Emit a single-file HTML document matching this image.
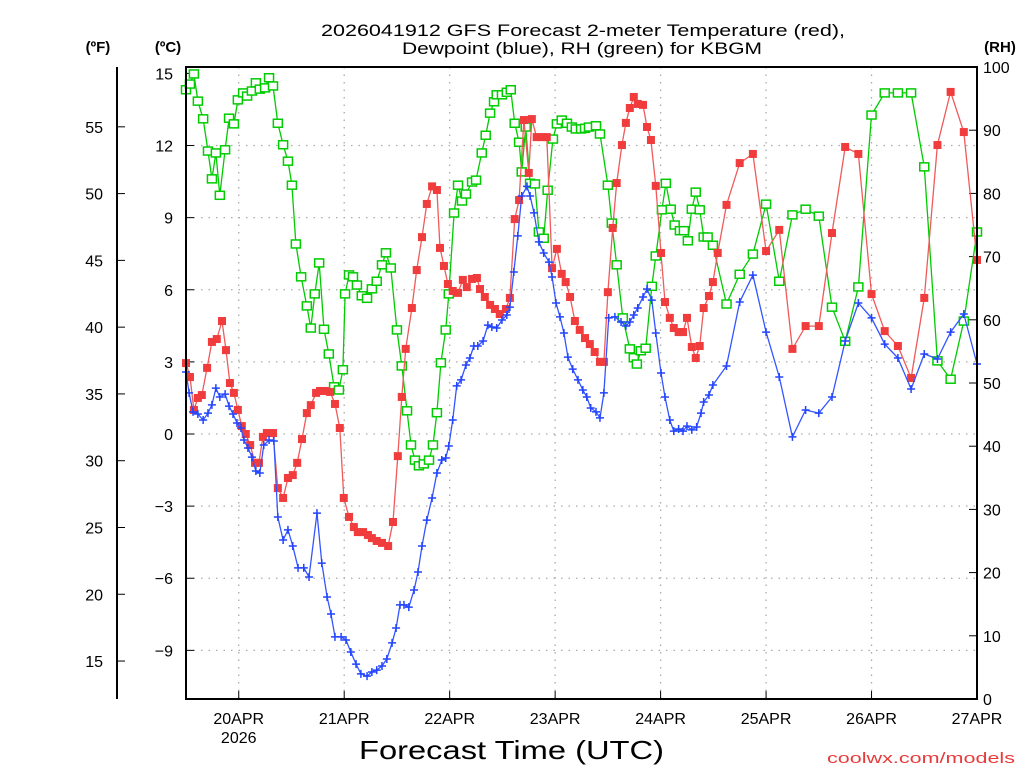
<!DOCTYPE html>
<html><head><meta charset="utf-8"><style>
html,body{margin:0;padding:0;background:#fff;}
svg{display:block;font-family:"Liberation Sans","DejaVu Sans",sans-serif;}
</style></head><body>
<svg id="chart" width="1024" height="768" viewBox="0 0 1024 768" xmlns="http://www.w3.org/2000/svg">
<text x="321" y="36" font-size="17" textLength="524" lengthAdjust="spacingAndGlyphs">2026041912 GFS Forecast 2-meter Temperature (red),</text>
<text x="402" y="54" font-size="17" textLength="360" lengthAdjust="spacingAndGlyphs">Dewpoint (blue), RH (green) for KBGM</text>
<text x="98" y="52" font-size="15" font-weight="bold" text-anchor="middle">(ºF)</text>
<text x="168" y="52" font-size="15" font-weight="bold" text-anchor="middle">(ºC)</text>
<text x="1000" y="52" font-size="15" font-weight="bold" text-anchor="middle">(RH)</text>
<text x="359" y="759" font-size="26" textLength="305" lengthAdjust="spacingAndGlyphs">Forecast Time (UTC)</text>
<text x="827" y="763" font-size="15" fill="#e83a3a" textLength="188" lengthAdjust="spacingAndGlyphs">coolwx.com/models</text>
<g id="grid"></g><g id="axes"></g><g id="series"></g>
<rect x="186" y="67" width="791" height="632" fill="none" stroke="#000" stroke-width="2"/>
</svg>
<script>
const tempHours=[0,0.9,1.8,2.7,3.6,4.8,5.9,7.0,8.2,9.1,10.0,10.9,11.8,12.7,13.6,14.6,15.7,16.6,17.5,18.4,19.8,20.9,22.1,23.2,24.3,25.3,26.4,27.5,28.4,29.6,30.5,31.6,32.8,33.9,35.0,35.9,37.1,38.2,39.1,40.3,41.4,42.3,43.4,44.6,46.0,47.1,48.2,49.1,50.0,51.4,52.5,53.7,54.8,56.0,57.1,57.8,58.7,59.6,60.7,61.9,63.0,63.9,65.1,66.2,66.9,68.0,69.2,70.3,71.4,72.8,73.7,74.8,75.8,76.9,78.0,78.7,79.8,81.0,82.1,83.3,84.4,85.5,86.4,87.4,88.5,89.6,90.8,91.9,93.0,94.2,95.1,96.0,97.1,98.0,99.2,100.1,101.0,101.9,102.8,104.0,104.9,105.8,106.9,108.1,109.0,110.1,111.0,112.1,113.1,114.0,115.1,116.0,116.9,117.8,119.0,119.9,121.0,123,126,129,132,135,138,141,144,147,150,153,156,159,162,165,168,171,174,177,180];
const tempC=[2.95,2.37,1.0,1.5,1.62,2.75,3.83,3.95,4.7,3.49,2.12,1.71,1.0,0.33,0,-0.46,-1.2,-1.2,-0.12,0.04,0.04,-2.25,-2.66,-1.83,-1.71,-1.2,-0.21,0.87,1.2,1.71,1.79,1.79,1.75,1.25,0.25,-2.66,-3.45,-3.87,-4.08,-4.08,-4.2,-4.33,-4.45,-4.53,-4.66,-3.66,-0.92,1.54,3.54,5.24,6.82,8.19,9.57,10.3,10.15,7.74,6.99,6.24,5.95,5.87,6.41,6.11,6.45,6.49,6.03,5.7,5.37,5.2,4.99,5.2,5.66,8.94,9.73,13.06,10.86,13.1,12.35,12.35,12.35,6.9,7.7,6.66,6.32,5.7,4.7,4.33,3.99,3.74,3.41,3.0,3.0,5.9,8.57,10.44,12.02,12.94,13.56,14.02,13.73,13.69,12.77,12.23,10.32,7.53,5.49,4.83,4.41,4.24,4.24,4.83,3.62,3.16,3.66,5.24,5.74,6.32,7.53,9.53,11.27,11.65,7.61,8.49,3.54,4.49,4.49,8.36,11.94,11.65,5.82,4.28,3.66,2.33,5.66,12.02,14.23,12.56,7.24];
const dewHours=[0,0.7,1.6,2.7,3.9,5.0,5.9,6.8,7.7,8.9,9.8,10.7,11.6,12.5,13.2,14.1,15.0,15.9,16.8,17.7,18.9,20.0,20.9,22.1,23.2,24.3,25.5,26.8,28.0,29.8,30.9,32.1,33.0,33.9,35.3,36.4,37.5,38.7,39.8,41.2,42.3,43.4,44.6,45.7,46.9,47.8,48.7,49.6,50.7,51.9,52.8,53.7,54.8,56.0,57.1,58.2,59.1,59.8,60.7,61.6,62.6,63.7,64.6,65.5,66.4,67.6,68.7,69.6,70.7,71.9,73.0,73.7,74.6,75.5,76.4,77.6,78.3,79.2,80.3,81.4,82.6,83.3,84.2,85.1,86.0,86.9,88.0,89.2,90.3,91.2,92.1,93.3,94.2,95.1,96.2,97.6,99.0,100.1,101.0,101.9,102.8,104.0,104.9,106.0,106.9,108.1,109.0,110.1,111.0,112.1,113.1,114.0,115.1,116.2,117.2,117.8,119.0,119.9,123,126,129,132,135,138,141,144,147,150,153,156,159,162,165,168,171,174,177,180];
const dewC=[2.58,1.71,0.92,0.83,0.58,0.87,1.21,1.91,1.54,1.66,1.16,0.83,0.46,0.25,-0.25,-0.58,-0.96,-1.54,-1.62,-0.46,-0.25,-0.29,-3.45,-4.41,-3.99,-4.66,-5.57,-5.57,-5.95,-3.29,-5.37,-6.78,-7.49,-8.44,-8.44,-8.57,-9.07,-9.57,-9.98,-10.07,-9.9,-9.82,-9.65,-9.36,-8.69,-8.07,-7.11,-7.11,-7.2,-6.49,-5.74,-4.66,-3.58,-2.66,-1.62,-1.08,-1.0,-0.5,0.58,2.0,2.25,2.87,3.16,3.66,3.66,3.87,4.53,4.45,4.41,4.74,4.95,5.28,6.74,8.24,9.9,10.3,9.9,9.2,7.99,7.53,7.15,6.53,5.45,4.87,4.2,3.2,2.7,2.25,1.83,1.54,1.08,0.92,0.67,1.71,4.83,4.87,4.66,4.49,4.66,4.95,5.24,5.7,6.03,5.57,4.2,2.54,1.54,0.58,0.12,0.21,0.12,0.33,0.17,0.29,0.87,1.33,1.62,2.04,2.83,5.49,6.61,4.24,2.37,-0.12,1.0,0.87,1.54,3.87,5.45,4.83,3.74,3.16,1.87,3.33,3.12,4.24,4.99,2.91];
const rhHours=[0,0.9,1.8,2.7,3.9,5.0,5.9,6.8,7.7,8.9,9.8,10.9,11.8,13.0,13.9,15.0,15.9,16.8,18.0,18.9,19.8,20.9,22.1,23.2,24.1,25.0,26.2,27.5,28.4,29.3,30.3,31.4,32.5,33.7,34.8,35.7,36.2,37.1,38.0,38.9,40.0,41.2,42.3,43.4,44.6,45.5,46.6,48.0,49.1,50.3,51.2,52.1,53.0,54.1,55.3,56.2,57.1,58.0,59.1,59.8,61.0,61.9,62.8,63.7,65.1,66.0,67.3,68.2,69.2,70.1,70.7,71.9,73.0,73.9,74.8,75.8,76.4,77.3,78.3,79.4,80.3,81.4,82.3,83.5,84.4,85.5,86.7,87.8,88.7,89.9,90.8,91.7,93.3,94.2,96.0,96.9,98.0,99.4,101.0,101.9,102.6,103.5,104.6,106.0,106.9,108.3,109.2,110.3,111.2,112.4,113.3,114.2,115.1,116.0,116.9,117.8,118.7,119.9,123,126,129,132,135,138,141,144,147,150,153,156,159,162,165,168,171,174,177,180];
const rhPct=[96.4,97.3,98.9,94.6,91.8,86.7,82.3,86.4,79.7,86.9,91.9,91.0,94.8,95.9,95.4,96.2,97.5,96.5,96.7,98.3,97.0,91.1,87.7,85.1,81.3,72.0,66.8,62.2,58.7,64.1,69.0,58.5,54.6,49.4,48.9,52.1,64.1,67.1,66.8,65.5,63.8,63.4,64.9,66.1,68.7,70.6,68.2,58.4,52.7,45.6,40.2,37.8,36.9,37.2,37.8,40.2,45.3,53.2,58.4,64.1,76.9,81.3,78.8,79.9,81.8,82.1,86.4,89.2,92.7,94.5,95.6,95.6,96.0,96.4,91.1,88.1,83.4,90.5,81.6,81.5,73.9,72.9,80.5,88.6,91.0,91.6,91.1,90.5,90.2,90.2,90.3,90.5,90.7,89.4,81.3,75.3,68.7,60.3,55.4,54.0,53.0,55.1,55.5,65.3,70.1,77.4,81.6,77.5,75.0,74.1,74.1,72.5,77.5,80.2,77.4,73.1,73.1,71.8,62.5,67.2,70.4,78.3,66.1,76.6,77.5,76.4,62.0,56.6,65.2,92.4,95.9,95.9,95.9,84.2,53.5,50.6,59.8,73.9];
const celsiusTicks=[15,12,9,6,3,0,-3,-6,-9];
const fahrenheitTicks=[55,50,45,40,35,30,25,20,15];
const rhTicks=[0,10,20,30,40,50,60,70,80,90,100];
const dayLabels=["20APR","21APR","22APR","23APR","24APR","25APR","26APR","27APR"];
const dayHours=[12,36,60,84,108,132,156,180];

const X0=186,X1=977,Y0=67,Y1=699;
const xH=h=>X0+(h/180)*(X1-X0);
const yC=c=>434-c*24.04;
const yF=f=>yC((f-32)/1.8);
const yRH=r=>Y1-r*(Y1-Y0)/100;
const NS="http://www.w3.org/2000/svg";
function mk(tag,attrs,parent){const e=document.createElementNS(NS,tag);for(const k in attrs)e.setAttribute(k,attrs[k]);parent.appendChild(e);return e;}
const grid=document.getElementById('grid'),axes=document.getElementById('axes'),ser=document.getElementById('series');

celsiusTicks.forEach(c=>{const y=yC(c);
 if(c!==15){const g=mk('line',{x1:X0,x2:X1,y1:y,y2:y,stroke:'#aaa','stroke-width':1.3,'stroke-dasharray':'1.5 6'},grid);
 
 }
 const tk=mk('line',{x1:X0,x2:X0+8,y1:y,y2:y,stroke:'#000','stroke-width':1},axes);
 
 
 const t=mk('text',{x:173,y:y+6,'font-size':16,'text-anchor':'end',fill:'#000'},axes);t.textContent=c<0?'−'+(-c):String(c);
 
 
});
const fl=mk('line',{x1:117,x2:117,y1:Y0,y2:Y1,stroke:'#000','stroke-width':2},axes);


fahrenheitTicks.forEach(f=>{const y=yF(f);
 const tk=mk('line',{x1:117,x2:125,y1:y,y2:y,stroke:'#000','stroke-width':1},axes);
 
 
 const t=mk('text',{x:103,y:y+6,'font-size':16,'text-anchor':'end'},axes);t.textContent=String(f);
 
 
});
rhTicks.forEach(r=>{const y=yRH(r);
 const tk=mk('line',{x1:X1-8,x2:X1,y1:y,y2:y,stroke:'#000','stroke-width':1},axes);
 
 
 const t=mk('text',{x:983,y:y+6,'font-size':16,'text-anchor':'start'},axes);t.textContent=String(r);
 
 
});
dayHours.forEach((h,i)=>{const x=xH(h);
 if(i<dayHours.length-1){const g=mk('line',{x1:x,x2:x,y1:Y0,y2:Y1,stroke:'#aaa','stroke-width':1.3,'stroke-dasharray':'1.5 6'},grid);
 
 }
 const tk=mk('line',{x1:x,x2:x,y1:Y1-8,y2:Y1,stroke:'#000'},axes);
 
 
 const t=mk('text',{x:x,y:724,'font-size':16,'text-anchor':'middle'},axes);t.textContent=dayLabels[i];
 
 
});
const yr=mk('text',{x:xH(12),y:743,'font-size':16,'text-anchor':'middle'},axes);yr.textContent='2026';



function series(hours,vals,yf,color,lineColor,marker,name){
 const pts=hours.map((h,i)=>xH(h).toFixed(1)+','+yf(vals[i]).toFixed(1)).join(' ');
 const pl=mk('polyline',{points:pts,fill:'none',stroke:lineColor,'stroke-width':1.3},ser);
 
 
 hours.forEach((h,i)=>{const x=xH(h),y=yf(vals[i]);let m;
  if(marker==='fill'){m=mk('rect',{x:x-4,y:y-4,width:8,height:8,fill:color},ser);}
  else if(marker==='open'){m=mk('rect',{x:x-4.5,y:y-4,width:9,height:8,fill:'#fff',stroke:color,'stroke-width':1.5},ser);}
  else {m=mk('path',{d:`M${x-4},${y}H${x+4}M${x},${y-4}V${y+4}`,stroke:color,'stroke-width':1.5,fill:'none'},ser);}
  
  
 });
}
series(rhHours,rhPct,yRH,'#00cc00','#00cc00','open','rh-series');
series(tempHours,tempC,yC,'#f03c3c','#f05a5a','fill','temperature-series');
series(dewHours,dewC,yC,'#2244ff','#3355ff','plus','dewpoint-series');
</script>
</body></html>
